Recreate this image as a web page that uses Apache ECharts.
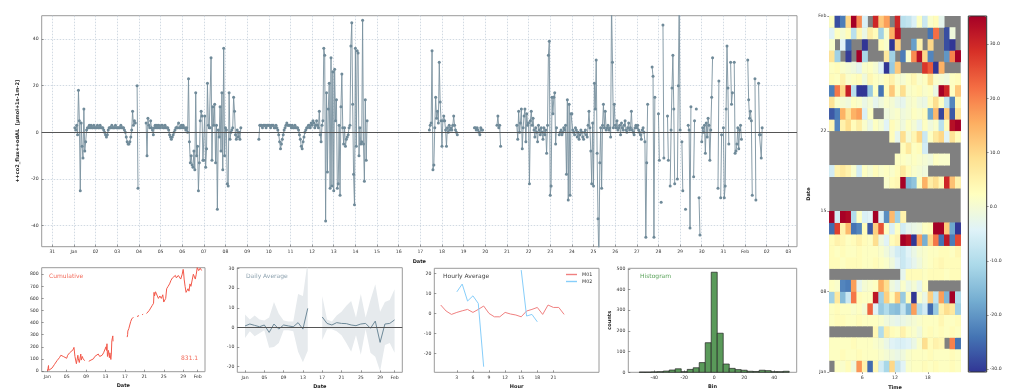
<!DOCTYPE html>
<html><head><meta charset="utf-8">
<script src="https://cdn.jsdelivr.net/npm/echarts@6/dist/echarts.min.js"></script>
<style>html,body{margin:0;padding:0;background:#fff}#c{width:1024px;height:392px}</style>
</head><body><div id="c"></div>
<script>
// ---------- DATA ----------
// main x ticks (days since Jan 1)
const mainTickDays = [-1,0,1,2,3,4,5,6,7,8,9,10,11,12,13,14,15,16,17,18,19,20,21,22,23,24,25,26,27,28,29,30,31,32,33];
const mainTickLabels = ['31','Jan','02','03','04','05','06','07','08','09','10','11','12','13','14','15','16','17','18','19','20','21','22','23','24','25','26','27','28','29','30','31','Feb','02','03'];
const fluxTicks = [-40,-20,0,20,40];
// hourly flux, one row per day (Jan 1 .. Feb 1), 24 hourly values each
const hourlyFlux = [
 [null,2,1,3,-1,18,5,-25,4,-6,-11,10,-8,-4,1,2,2,3,2,3,2,2,3,2],
 [2,2,3,2,2,3,2,2,2,1,0,-1,-2,-1,1,2,2,2,3,2,2,2,3,2],
 [2,2,2,2,3,2,2,2,1,0,-2,-4,-5,-5,-4,-2,1,9,3,5,4,null,20,-24],
 [null,null,null,null,null,null,null,null,4,-10,6,3,2,5,2,1,-1,2,3,2,3,2,3,2],
 [2,3,3,2,2,3,2,2,2,1,-1,-2,-3,-2,-1,0,1,2,2,2,4,2,2,3],
 [2,3,2,2,1,2,0,23,-4,-13,-10,-14,-15,-8,-16,17,-10,-6,-25,-13,5,9,7,-12],
 [-12,7,-15,-7,21,3,2,2,32,-12,11,3,12,-13,3,-33,1,-2,11,-8,17,-16,36,-10],
 [2,1,-22,-23,17,-3,0,1,2,15,9,-1,-3,1,-2,0,-3,2,null,null,null,null,null,null],
 [null,null,null,null,null,null,null,null,null,null,null,null,null,-3,3,3,3,2,3,3,3,2,3,3],
 [3,3,2,3,3,3,2,2,3,2,1,-1,-4,-7,-5,-3,-1,1,2,3,4,3,3,3],
 [3,2,3,2,2,3,2,2,2,1,-1,-3,-6,-7,-4,-2,0,1,2,2,3,3,2,4],
 [3,5,4,2,3,5,3,2,9,-1,-4,3,5,36,33,-38,17,-17,10,21,-24,32,-23,26],
 [-25,27,5,14,-24,-22,3,-27,11,25,2,-5,2,-6,-3,-2,-1,2,3,37,47,12,-18,-31],
 [36,-6,35,34,-10,2,-5,-4,48,-5,-21,14,-12,5,null,null,null,null,null,null,null,null,null,null],
 [null,null,null,null,null,null,null,null,null,null,null,null,null,null,null,null,null,null,null,null,null,null,null,null],
 [null,null,null,null,null,null,null,null,null,null,null,null,null,null,null,null,null,null,null,null,null,null,null,null],
 [null,null,null,null,null,null,null,null,null,null,1,3,4,35,-16,-14,2,15,6,9,4,30,13,5],
 [-6,5,7,5,1,-6,2,0,3,1,2,1,3,7,3,1,0,-1,null,null,null,null,null,null],
 [null,null,null,null,null,null,null,null,null,null,null,null,2,2,1,2,1,0,-1,2,1,1,null,null],
 [null,null,null,null,null,null,null,null,null,null,null,null,null,3,7,2,3,-6,null,null,null,null,null,null],
 [null,null,null,null,null,null,null,null,null,null,null,3,-3,9,0,4,10,-7,2,7,10,-4,8,3],
 [4,-22,5,9,3,6,1,-2,2,0,-4,3,1,-1,2,0,-3,2,-1,1,-9,3,33,39],
 [-27,-23,15,8,15,17,-5,2,null,null,-1,0,1,-1,0,2,1,3,-18,14,-29,12,-27,8],
 [8,1,0,-1,2,1,-2,0,-3,-1,1,0,-2,-3,0,1,-1,-2,3,9,2,-8,-22,4],
 [-23,21,10,31,-9,-37,-56,-13,2,-24,3,12,2,9,1,2,3,1,2,-2,56,30,2,12],
 [3,2,5,1,2,3,-1,4,2,1,3,5,1,0,2,4,1,2,9,1,0,-1,2,3],
 [2,3,1,0,-1,-3,1,2,0,-4,-45,-13,12,null,null,null,null,28,24,-45,15,null,null,null],
 [8,-12,null,-30,null,46,-11,null,null,null,7,-12,null,-23,1,19,33,10,-22,null,null,-20,20,56],
 [1,null,-4,-25,null,null,-33,null,null,3,1,-41,11,null,null,-19,5,null,10,null,null,-28,-44,null],
 [-4,2,0,3,-9,4,-2,6,3,-12,1,15,32,null,null,null,null,null,-24,22,null,-28,-1,null],
 [2,-28,-23,10,37,19,-5,null,30,12,17,null,30,-9,-8,-5,2,-7,1,3,-3,null,null,null],
 [null,null,null,31,14,6,9,5,-27,null,null,23,-29,null,null,21,-1,-1,-11,2,null,null,null,null]
];
// cumulative panel
const cumDays = [0.04,0.15,0.25,0.3,0.38,0.5,0.6,1.0,1.5,2.0,2.5,2.8,3.0,3.3,3.6,4.0,4.2,4.6,5.0,5.3,5.5,5.7,6.0,6.1,6.3,6.4,6.6,6.9,7.0,7.2,7.4,7.7,null,
 8.55,9.0,9.5,9.8,10.2,10.5,10.8,11.0,11.3,11.6,11.9,12.1,12.2,12.3,12.4,12.6,12.8,12.9,13.1,13.2,13.3,13.4,13.5,13.55,null,
 16.46,16.55,16.6,16.8,17.0,17.2,17.4,17.6,17.75,null,18.5,18.7,18.9,null,19.55,19.75,null,
 20.45,20.8,21.0,21.3,21.6,21.9,22.0,22.1,22.3,22.6,22.9,23.2,23.5,23.8,24.0,24.2,24.4,24.6,24.9,25.2,25.5,25.8,26.0,26.2,26.4,26.6,26.8,27.0,27.2,27.5,27.8,28.0,28.1,28.2,28.4,28.6,28.8,29.0,29.2,29.4,29.6,29.9,30.1,30.3,30.5,30.7,30.9,31.2,31.5,31.8];
const cumValues = [2,20,45,5,0,-5,8,25,55,85,110,130,125,120,135,105,130,150,160,175,195,120,60,45,130,100,70,140,90,120,100,85,null,
 80,90,100,120,115,140,120,105,130,150,140,200,170,225,120,170,110,150,95,140,250,240,290,245,null,
 280,300,330,350,380,410,430,440,445,null,450,455,458,null,465,470,null,
 475,490,500,520,540,560,650,620,655,640,600,620,600,630,570,555,600,680,700,720,750,770,780,760,790,770,760,790,780,760,800,840,810,760,700,650,640,680,660,720,700,760,800,790,760,800,855,830,850,831];
const cumulativeTotal = '831.1';
const panelTickDays = [0,4,8,12,16,20,24,28,31];
const panelTickLabels = ['Jan','05','09','13','17','21','25','29','Feb'];
// daily average panel (days since Jan 1)
const dailyDays = [0,1,2,3,4,5,6,7,8,9,10,11,12,13,14,15,16,17,18,19,20,21,22,23,24,25,26,27,28,29,30,31];
const dailyMean = [0.7,1.7,1.0,0.3,1.2,-2.6,1.7,-0.9,1.2,0.7,0.3,2.4,-0.9,9.7,null,null,5.3,2.0,1.2,2.4,2.0,1.9,1.2,0.85,1.7,2.0,-0.5,3.2,-7.7,1.7,2.0,3.8];
const dailyUpper = [6.5,4,6,4,3.5,5,13,7,3.5,3,3,17,16,34,null,null,16,4,3,6,8,11,13.5,5,17,5,14,22,8,13,14,19.5];
const dailyLower = [-5.5,-2,-4.5,-3,-1.5,-10.5,-10,-8,-1.5,-1.5,-2,-12.5,-17.8,-12,null,null,-6.5,-1,-1,-2,-4,-8,-12.5,-4,-14,-1,-13,-15,-22.5,-9,-8,-13];
// hourly average panel
const hours = [0,1,2,3,4,5,6,7,8,9,10,11,12,13,14,15,16,17,18,19,20,21,22,23];
const hourTicks = [3,6,9,12,15,18,21];
const hourlyM01 = [4.2,1.2,-0.5,0.5,1.3,2.0,0.5,2.0,3.7,0.0,-1.7,-1.7,0.5,-0.3,-0.8,-1.7,1.2,2.0,3.0,-0.5,4.2,3.0,3.0,-0.5];
const hourlyM02 = [null,null,null,10.8,14.7,6.2,8.8,5.0,-26.7,null,null,null,null,null,null,21.7,-1.3,-0.5,-4.2,null,null,null,null,null];
// histogram
const binStarts = [-50,-46,-42,-38,-34,-30,-26,-22,-18,-14,-10,-6,-2,2,6,10,14,18,22,26,30,34,38,42,46];
const binWidth = 4;
const binCounts = [1,1,2,3,6,11,17,3,14,22,47,143,484,189,40,19,13,10,5,4,10,8,3,3,5];
// heatmap axes
const heatHourTicks = [6,12,18];
const heatDayTicks = [0,7,14,21,31];
const heatDayLabels = ['Jan','08','15','22','Feb'];
const colorTicks = [-30,-20,-10,0,10,20,30];

// ---------- BUILD ----------
const F = 'DejaVu Sans';
const FS = 4.6;
const cMin = -30.5, cMax = 35.2;
const mainData = [];
hourlyFlux.forEach((row, d) => row.forEach((v, h) => mainData.push([d + h / 24, v])));
const heatData = [];
for (let d = 0; d < 31; d++) hourlyFlux[d].forEach((v, h) => {
  if (v !== null) heatData.push([h, d, Math.max(cMin, Math.min(cMax, v))]);
});
const cumData = cumDays.map((d, i) => d === null ? [null, null] : [d, cumValues[i]]);
const meanData = dailyDays.map((d, i) => [d, dailyMean[i]]);
// contiguous segments of the std band
const bandSegments = [];
let seg = [];
dailyDays.forEach((d, i) => {
  if (dailyUpper[i] === null) { if (seg.length) bandSegments.push(seg); seg = []; }
  else seg.push(i);
});
if (seg.length) bandSegments.push(seg);
const histData = binStarts.map((b, i) => [b, b + binWidth, binCounts[i]]);

function lbl(extra) { return Object.assign({fontFamily: F, fontSize: FS, color: '#333', margin: 3}, extra || {}); }
const nameStyle = {fontFamily: F, fontSize: 5, fontWeight: 'bold', color: '#222'};
function tick(vals, inside) { return {show: true, inside: inside !== false, length: 2, lineStyle: {color: '#555', width: 0.6}, customValues: vals}; }
const noLine = {show: false, onZero: false};

const grids = [
  {left: 41.7, top: 15.7, width: 755.3, height: 231},
  {left: 41.7, top: 267.7, width: 163.3, height: 104},
  {left: 237.3, top: 267.7, width: 165, height: 104.6},
  {left: 434.3, top: 268.3, width: 164.7, height: 104},
  {left: 628.3, top: 268.3, width: 168.4, height: 104},
  {left: 829.3, top: 16, width: 131.4, height: 356, backgroundColor: '#808080', borderWidth: 0},
  {left: 968.3, top: 16, width: 18.4, height: 356, borderColor: '#333', z: 10, backgroundColor: 'transparent'}
].map(g => Object.assign({show: true, borderColor: '#9a9a9a', borderWidth: 1, containLabel: false, outerBoundsMode: 'none'}, g));

const xAxes = [
  {gridIndex: 0, type: 'value', position: 'bottom', min: -1.49, max: 33.4, name: 'Date', nameLocation: 'middle', nameGap: 10, nameTextStyle: nameStyle,
   axisLine: noLine, axisTick: tick(mainTickDays),
   axisLabel: lbl({customValues: mainTickDays, formatter: v => mainTickLabels[mainTickDays.indexOf(Math.round(v))]}),
   splitLine: {show: true, lineStyle: {color: '#c5d0dc', type: [1.5, 1.5], width: 0.8}}},
  {gridIndex: 1, type: 'value', position: 'bottom', min: -1.15, max: 32.5, name: 'Date', nameLocation: 'middle', nameGap: 12, nameTextStyle: nameStyle,
   axisLine: noLine, axisTick: tick(panelTickDays),
   axisLabel: lbl({customValues: panelTickDays, formatter: v => panelTickLabels[panelTickDays.indexOf(Math.round(v))]}), splitLine: {show: false}},
  {gridIndex: 2, type: 'value', position: 'bottom', min: -1.6, max: 32.6, name: 'Date', nameLocation: 'middle', nameGap: 12, nameTextStyle: nameStyle,
   axisLine: noLine, axisTick: tick(panelTickDays),
   axisLabel: lbl({customValues: panelTickDays, formatter: v => panelTickLabels[panelTickDays.indexOf(Math.round(v))]}), splitLine: {show: false}},
  {gridIndex: 3, type: 'value', position: 'bottom', min: -1.2, max: 29.5, name: 'Hour', nameLocation: 'middle', nameGap: 12, nameTextStyle: nameStyle,
   axisLine: noLine, axisTick: tick(hourTicks), axisLabel: lbl({customValues: hourTicks}), splitLine: {show: false}},
  {gridIndex: 4, type: 'value', position: 'bottom', min: -57.3, max: 55, name: 'Bin', nameLocation: 'middle', nameGap: 12, nameTextStyle: nameStyle,
   axisLine: noLine, axisTick: tick([-40,-20,0,20,40]), axisLabel: lbl({customValues: [-40,-20,0,20,40]}), splitLine: {show: false}},
  {gridIndex: 5, type: 'category', position: 'top', data: hours, show: false},
  {gridIndex: 5, type: 'value', position: 'bottom', min: 0, max: 24, name: 'Time', nameLocation: 'middle', nameGap: 11, nameTextStyle: nameStyle,
   axisLine: noLine, axisTick: tick(heatHourTicks, false),
   axisLabel: lbl({customValues: heatHourTicks}), splitLine: {show: false}},
  {gridIndex: 6, type: 'value', min: 0, max: 1, show: false}
];
const yAxes = [
  {gridIndex: 0, type: 'value', position: 'left', min: -49, max: 50, name: '++co2_flux++odAL  [\u00b5mol+1s-1m-2]', nameLocation: 'middle', nameGap: 20, nameTextStyle: nameStyle,
   axisLine: noLine, axisTick: tick(fluxTicks), axisLabel: lbl({customValues: fluxTicks}),
   splitLine: {show: true, lineStyle: {color: '#c5d0dc', type: [1.5, 1.5], width: 0.8}}},
  {gridIndex: 1, type: 'value', position: 'left', min: -6, max: 854, axisLine: noLine, axisTick: tick([0,100,200,300,400,500,600,700,800]),
   axisLabel: lbl({customValues: [0,100,200,300,400,500,600,700,800]}), splitLine: {show: false}},
  {gridIndex: 2, type: 'value', position: 'left', min: -23, max: 30.5, axisLine: noLine, axisTick: tick([-20,-10,0,10,20,30]),
   axisLabel: lbl({customValues: [-20,-10,0,10,20,30]}), splitLine: {show: false}},
  {gridIndex: 3, type: 'value', position: 'left', min: -29.5, max: 22.6, axisLine: noLine, axisTick: tick([-20,-10,0,10,20]),
   axisLabel: lbl({customValues: [-20,-10,0,10,20]}), splitLine: {show: false}},
  {gridIndex: 4, type: 'value', position: 'left', min: 0, max: 503, name: 'counts', nameLocation: 'middle', nameGap: 15, nameTextStyle: nameStyle,
   axisLine: noLine, axisTick: tick([0,100,200,300,400,500]), axisLabel: lbl({customValues: [0,100,200,300,400,500]}), splitLine: {show: false}},
  {gridIndex: 5, type: 'category', position: 'right', data: dailyDays.slice(0, 31), show: false},
  {gridIndex: 5, type: 'value', position: 'left', min: 0, max: 31, name: 'Date', nameLocation: 'middle', nameGap: 18, nameTextStyle: nameStyle,
   axisLine: noLine, axisTick: tick(heatDayTicks, false),
   axisLabel: lbl({customValues: heatDayTicks, formatter: v => heatDayLabels[heatDayTicks.indexOf(Math.round(v))]}), splitLine: {show: false}},
  {gridIndex: 6, type: 'value', position: 'right', min: cMin, max: cMax, axisLine: noLine,
   axisTick: tick(colorTicks, false),
   axisLabel: lbl({customValues: colorTicks, formatter: v => v.toFixed(1)}), splitLine: {show: false}}
];

const series = [
  {type: 'line', xAxisIndex: 0, yAxisIndex: 0, data: mainData, connectNulls: false, showSymbol: true, symbol: 'circle', symbolSize: 3,
   lineStyle: {color: '#7a929f', width: 0.9}, itemStyle: {color: '#6f8a99'}, animation: false, silent: true,
   markLine: {silent: true, symbol: 'none', label: {show: false}, lineStyle: {color: '#555', type: 'solid', width: 1}, data: [{yAxis: 0}]}},
  {type: 'line', xAxisIndex: 1, yAxisIndex: 1, data: cumData, showSymbol: false, connectNulls: false,
   lineStyle: {color: '#f2584a', width: 1}, animation: false},
  {type: 'custom', xAxisIndex: 2, yAxisIndex: 2, data: bandSegments.map((s, k) => [k]), animation: false, silent: true, z: 1,
   renderItem: (params, api) => {
     const idx = bandSegments[params.dataIndex];
     const pts = [];
     idx.forEach(i => pts.push(api.coord([dailyDays[i], dailyUpper[i]])));
     idx.slice().reverse().forEach(i => pts.push(api.coord([dailyDays[i], dailyLower[i]])));
     const cs = params.coordSys;
     return {type: 'polygon', shape: {points: pts}, style: {fill: '#e6eaed'},
       clipPath: {type: 'rect', shape: {x: cs.x, y: cs.y, width: cs.width, height: cs.height}}};
   }},
  {type: 'line', xAxisIndex: 2, yAxisIndex: 2, data: meanData, showSymbol: false, connectNulls: false, z: 3,
   lineStyle: {color: '#6f8a99', width: 1}, animation: false,
   markLine: {silent: true, symbol: 'none', label: {show: false}, lineStyle: {color: '#555', type: 'solid', width: 1}, data: [{yAxis: 0}]}},
  {type: 'line', name: 'M01', xAxisIndex: 3, yAxisIndex: 3, data: hours.map((h, i) => [h, hourlyM01[i]]), showSymbol: false,
   lineStyle: {color: '#f08080', width: 1}, itemStyle: {color: '#f08080'}, animation: false},
  {type: 'line', name: 'M02', xAxisIndex: 3, yAxisIndex: 3, data: hours.map((h, i) => [h, hourlyM02[i]]), showSymbol: false, connectNulls: false,
   lineStyle: {color: '#87cefa', width: 1}, itemStyle: {color: '#87cefa'}, animation: false},
  {type: 'custom', xAxisIndex: 4, yAxisIndex: 4, data: histData, animation: false,
   renderItem: (params, api) => {
     const p0 = api.coord([api.value(0), 0]);
     const p1 = api.coord([api.value(1), api.value(2)]);
     return {type: 'rect', shape: {x: p0[0], y: p1[1], width: p1[0] - p0[0], height: p0[1] - p1[1]},
       style: {fill: '#5a9a5a', stroke: '#222', lineWidth: 0.7}};
   }},
  {type: 'heatmap', xAxisIndex: 5, yAxisIndex: 5, data: heatData, animation: false, itemStyle: {borderWidth: 0}}
];

const chart = echarts.init(document.getElementById('c'), null, {renderer: 'canvas'});
chart.setOption({
  animation: false,
  backgroundColor: '#fff',
  grid: grids, xAxis: xAxes, yAxis: yAxes, series: series,
  legend: {data: ['M01', 'M02'], orient: 'vertical', left: 566, top: 272, icon: 'rect', itemWidth: 11, itemHeight: 1.4, itemGap: 2,
    padding: 0, textStyle: {fontFamily: F, fontSize: 4.8, color: '#333'}},
  visualMap: {type: 'continuous', seriesIndex: 7, min: cMin, max: cMax, calculable: false, left: 968.3, top: 16,
    itemWidth: 18.4, itemHeight: 356, padding: 0, text: null, showLabel: false, hoverLink: false,
    inRange: {color: ['#313695','#4575b4','#74add1','#abd9e9','#e0f3f8','#ffffbf','#fee090','#fdae61','#f46d43','#d73027','#a50026']}},
  graphic: [
    {type: 'text', left: 49, top: 273, style: {text: 'Cumulative', fill: '#f26b5b', font: '6px "DejaVu Sans"'}},
    {type: 'text', left: 181, top: 355, style: {text: cumulativeTotal, fill: '#f26b5b', font: '6px "DejaVu Sans"'}},
    {type: 'text', left: 246, top: 273, style: {text: 'Daily Average', fill: '#8fa3b0', font: '6px "DejaVu Sans"'}},
    {type: 'text', left: 443, top: 273, style: {text: 'Hourly Average', fill: '#444', font: '6px "DejaVu Sans"'}},
    {type: 'text', left: 640, top: 273, style: {text: 'Histogram', fill: '#5aa35a', font: '6px "DejaVu Sans"'}}
  ]
});
</script></body></html>
